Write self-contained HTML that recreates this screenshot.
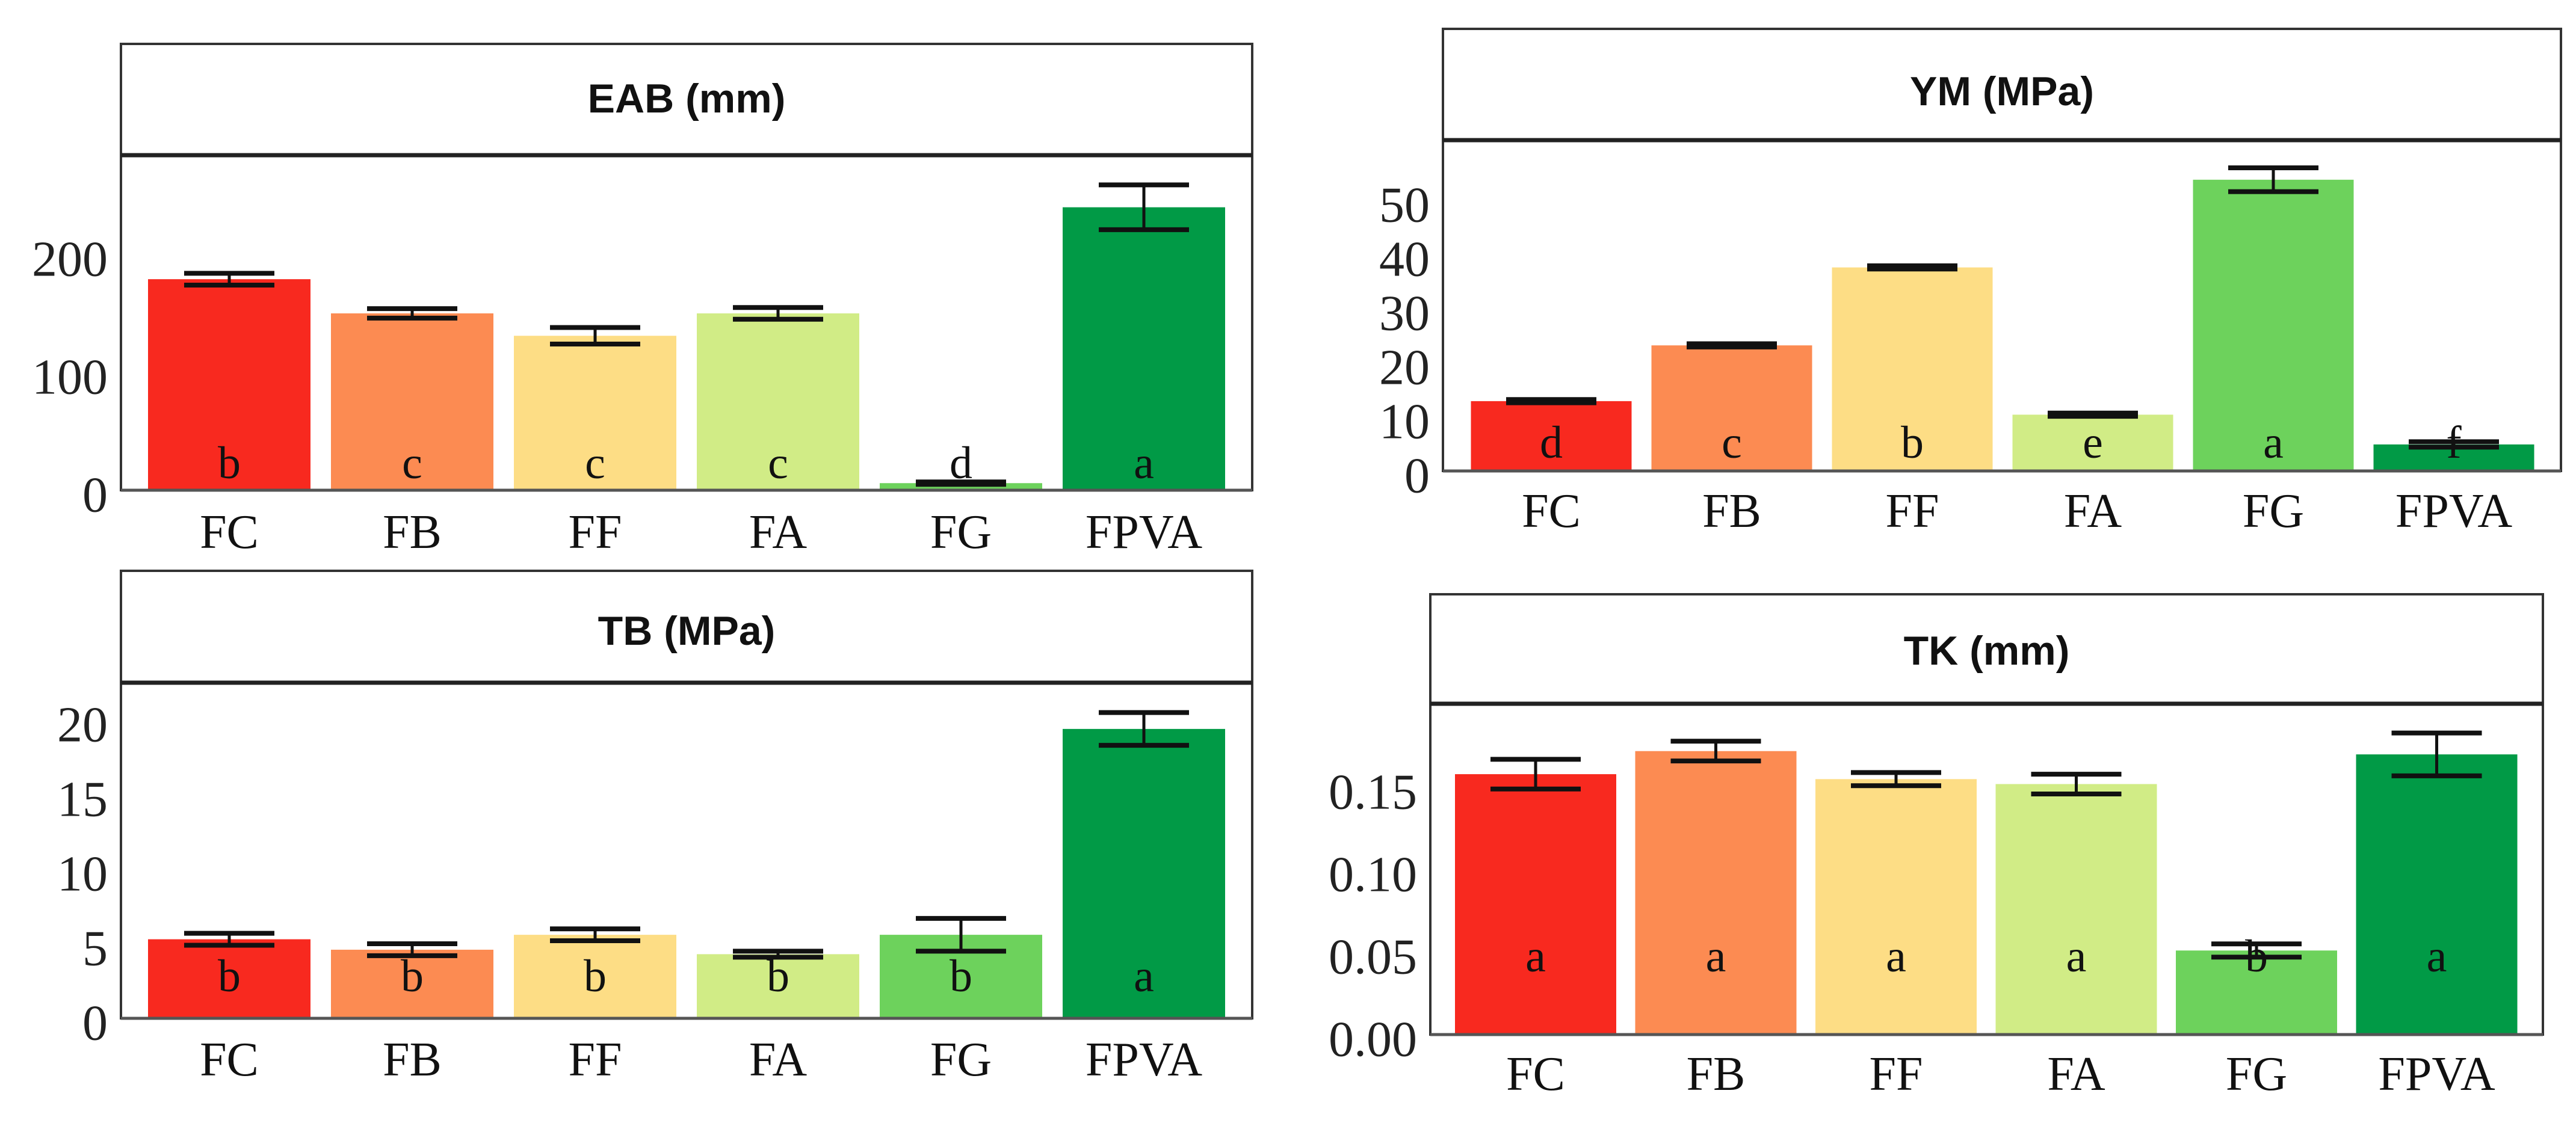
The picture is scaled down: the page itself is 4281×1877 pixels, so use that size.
<!DOCTYPE html>
<html><head><meta charset="utf-8"><style>
html,body{margin:0;padding:0;background:#fff;}
svg{display:block;}
text{font-family:"Liberation Serif",serif;}
.title{font-family:"Liberation Sans",sans-serif;font-weight:bold;}
</style></head><body>
<svg id="chart" width="4281" height="1877" viewBox="0 0 4281 1877" xmlns="http://www.w3.org/2000/svg"></svg>
<script>
const categories = ["FC","FB","FF","FA","FG","FPVA"];
const colors = ["#f8291f","#fc8b52","#fddd85","#d1ec86","#6dd25c","#019a46"];

const eabValues = [179,150,131,150,6,240];
const eabErrors = [5,4,7,5,1,19];
const eabLetters = ["b","c","c","c","d","a"];
const eabTicks = [0,100,200];
const eabTickLabels = ["0","100","200"];

const ymValues = [12.9,23.2,37.6,10.4,53.8,4.9];
const ymErrors = [0.3,0.3,0.3,0.3,2.2,0.5];
const ymLetters = ["d","c","b","e","a","f"];
const ymTicks = [0,10,20,30,40,50];
const ymTickLabels = ["0","10","20","30","40","50"];

const tbValues = [5.3,4.6,5.6,4.3,5.6,19.4];
const tbErrors = [0.4,0.4,0.4,0.2,1.1,1.1];
const tbLetters = ["b","b","b","b","b","a"];
const tbTicks = [0,5,10,15,20];
const tbTickLabels = ["0","5","10","15","20"];

const tkValues = [0.158,0.172,0.155,0.152,0.051,0.170];
const tkErrors = [0.009,0.006,0.004,0.006,0.004,0.013];
const tkLetters = ["a","a","a","a","b","a"];
const tkTicks = [0,0.05,0.10,0.15];
const tkTickLabels = ["0.00","0.05","0.10","0.15"];

const NS = "http://www.w3.org/2000/svg";
const svg = document.getElementById("chart");
function mk(tag, attrs, parent){
  const e = document.createElementNS(NS, tag);
  for (const k in attrs) e.setAttribute(k, attrs[k]);
  (parent||svg).appendChild(e);
  return e;
}

function panel(cfg){
  const g = mk("g", {});
  
  
  const yScale = v => cfg.zeroY - v * cfg.pxPerUnit;
  const xCenter = i => cfg.firstCenter + i * cfg.step;
  // header box
  const hdr = mk("rect", {x:cfg.left, y:cfg.headTop, width:cfg.right-cfg.left, height:cfg.plotTop-cfg.headTop, fill:"#fff", stroke:"#333", "stroke-width":4}, g);
  
  
  const t = mk("text", {x:(cfg.left+cfg.right)/2, y:cfg.titleY, "font-size":68, "text-anchor":"middle", "dominant-baseline":"central", class:"title", fill:"#111"}, g);
  t.textContent = cfg.title;
  
  
  // plot frame
  const fr = mk("rect", {x:cfg.left, y:cfg.plotTop, width:cfg.right-cfg.left, height:cfg.zeroY-cfg.plotTop, fill:"#fff", stroke:"#333", "stroke-width":4}, g);
  
  
  const sep = mk("line", {x1:cfg.left, x2:cfg.right, y1:cfg.plotTop, y2:cfg.plotTop, stroke:"#222", "stroke-width":7}, g);
  
  
  // ticks
  cfg.ticks.forEach((tv, i) => {
    const tl = mk("text", {x:cfg.left-22, y:yScale(tv)+8, "font-size":84, "text-anchor":"end", "dominant-baseline":"central", fill:"#222"}, g);
    tl.textContent = cfg.tickLabels[i];
    
    
  });
  // bars
  cfg.values.forEach((v, i) => {
    const cx = xCenter(i);
    const b = mk("rect", {x:cx-cfg.barW/2, y:yScale(v), width:cfg.barW, height:cfg.zeroY-yScale(v), fill:colors[i]}, g);
    
    
  });
  // zero axis line
  const ax = mk("line", {x1:cfg.left, x2:cfg.right, y1:cfg.zeroY, y2:cfg.zeroY, stroke:"#555", "stroke-width":5}, g);
  
  
  // letters, error bars, x labels
  cfg.values.forEach((v, i) => {
    const cx = xCenter(i);
    const lt = mk("text", {x:cx, y:cfg.letterY, "font-size":76, "text-anchor":"middle", "dominant-baseline":"central", fill:"#111"}, g);
    lt.textContent = cfg.letters[i];
    
    
    const e = cfg.errors[i];
    const eg = mk("g", {stroke:"#111", "stroke-linecap":"butt"}, g);
    
    
    mk("line", {x1:cx, x2:cx, y1:yScale(v+e), y2:yScale(v-e), "stroke-width":5}, eg);
    mk("line", {x1:cx-75, x2:cx+75, y1:yScale(v+e), y2:yScale(v+e), "stroke-width":8}, eg);
    mk("line", {x1:cx-75, x2:cx+75, y1:yScale(v-e), y2:yScale(v-e), "stroke-width":8}, eg);
    const xl = mk("text", {x:cx, y:cfg.labelY, "font-size":80, "text-anchor":"middle", "dominant-baseline":"central", fill:"#111"}, g);
    xl.textContent = categories[i];
    
    
  });
}

panel({name:"eab", title:"EAB (mm)", left:201, right:2081, headTop:73, plotTop:258, zeroY:815, titleY:164,
  pxPerUnit:1.96, firstCenter:381, step:304, barW:270, letterY:770, labelY:885,
  values:eabValues, errors:eabErrors, letters:eabLetters, ticks:eabTicks, tickLabels:eabTickLabels});
panel({name:"ym", title:"YM (MPa)", left:2398, right:4256, headTop:48, plotTop:233, zeroY:783, titleY:152,
  pxPerUnit:9.0, firstCenter:2578, step:300, barW:267, letterY:736, labelY:850,
  values:ymValues, errors:ymErrors, letters:ymLetters, ticks:ymTicks, tickLabels:ymTickLabels});
panel({name:"tb", title:"TB (MPa)", left:201, right:2081, headTop:949, plotTop:1135, zeroY:1693, titleY:1049,
  pxPerUnit:24.8, firstCenter:381, step:304, barW:270, letterY:1623, labelY:1762,
  values:tbValues, errors:tbErrors, letters:tbLetters, ticks:tbTicks, tickLabels:tbTickLabels});
panel({name:"tk", title:"TK (mm)", left:2377, right:4226, headTop:988, plotTop:1170, zeroY:1720, titleY:1082,
  pxPerUnit:2740, firstCenter:2552, step:299.5, barW:268, letterY:1590, labelY:1786,
  values:tkValues, errors:tkErrors, letters:tkLetters, ticks:tkTicks, tickLabels:tkTickLabels});
</script>
</body></html>
